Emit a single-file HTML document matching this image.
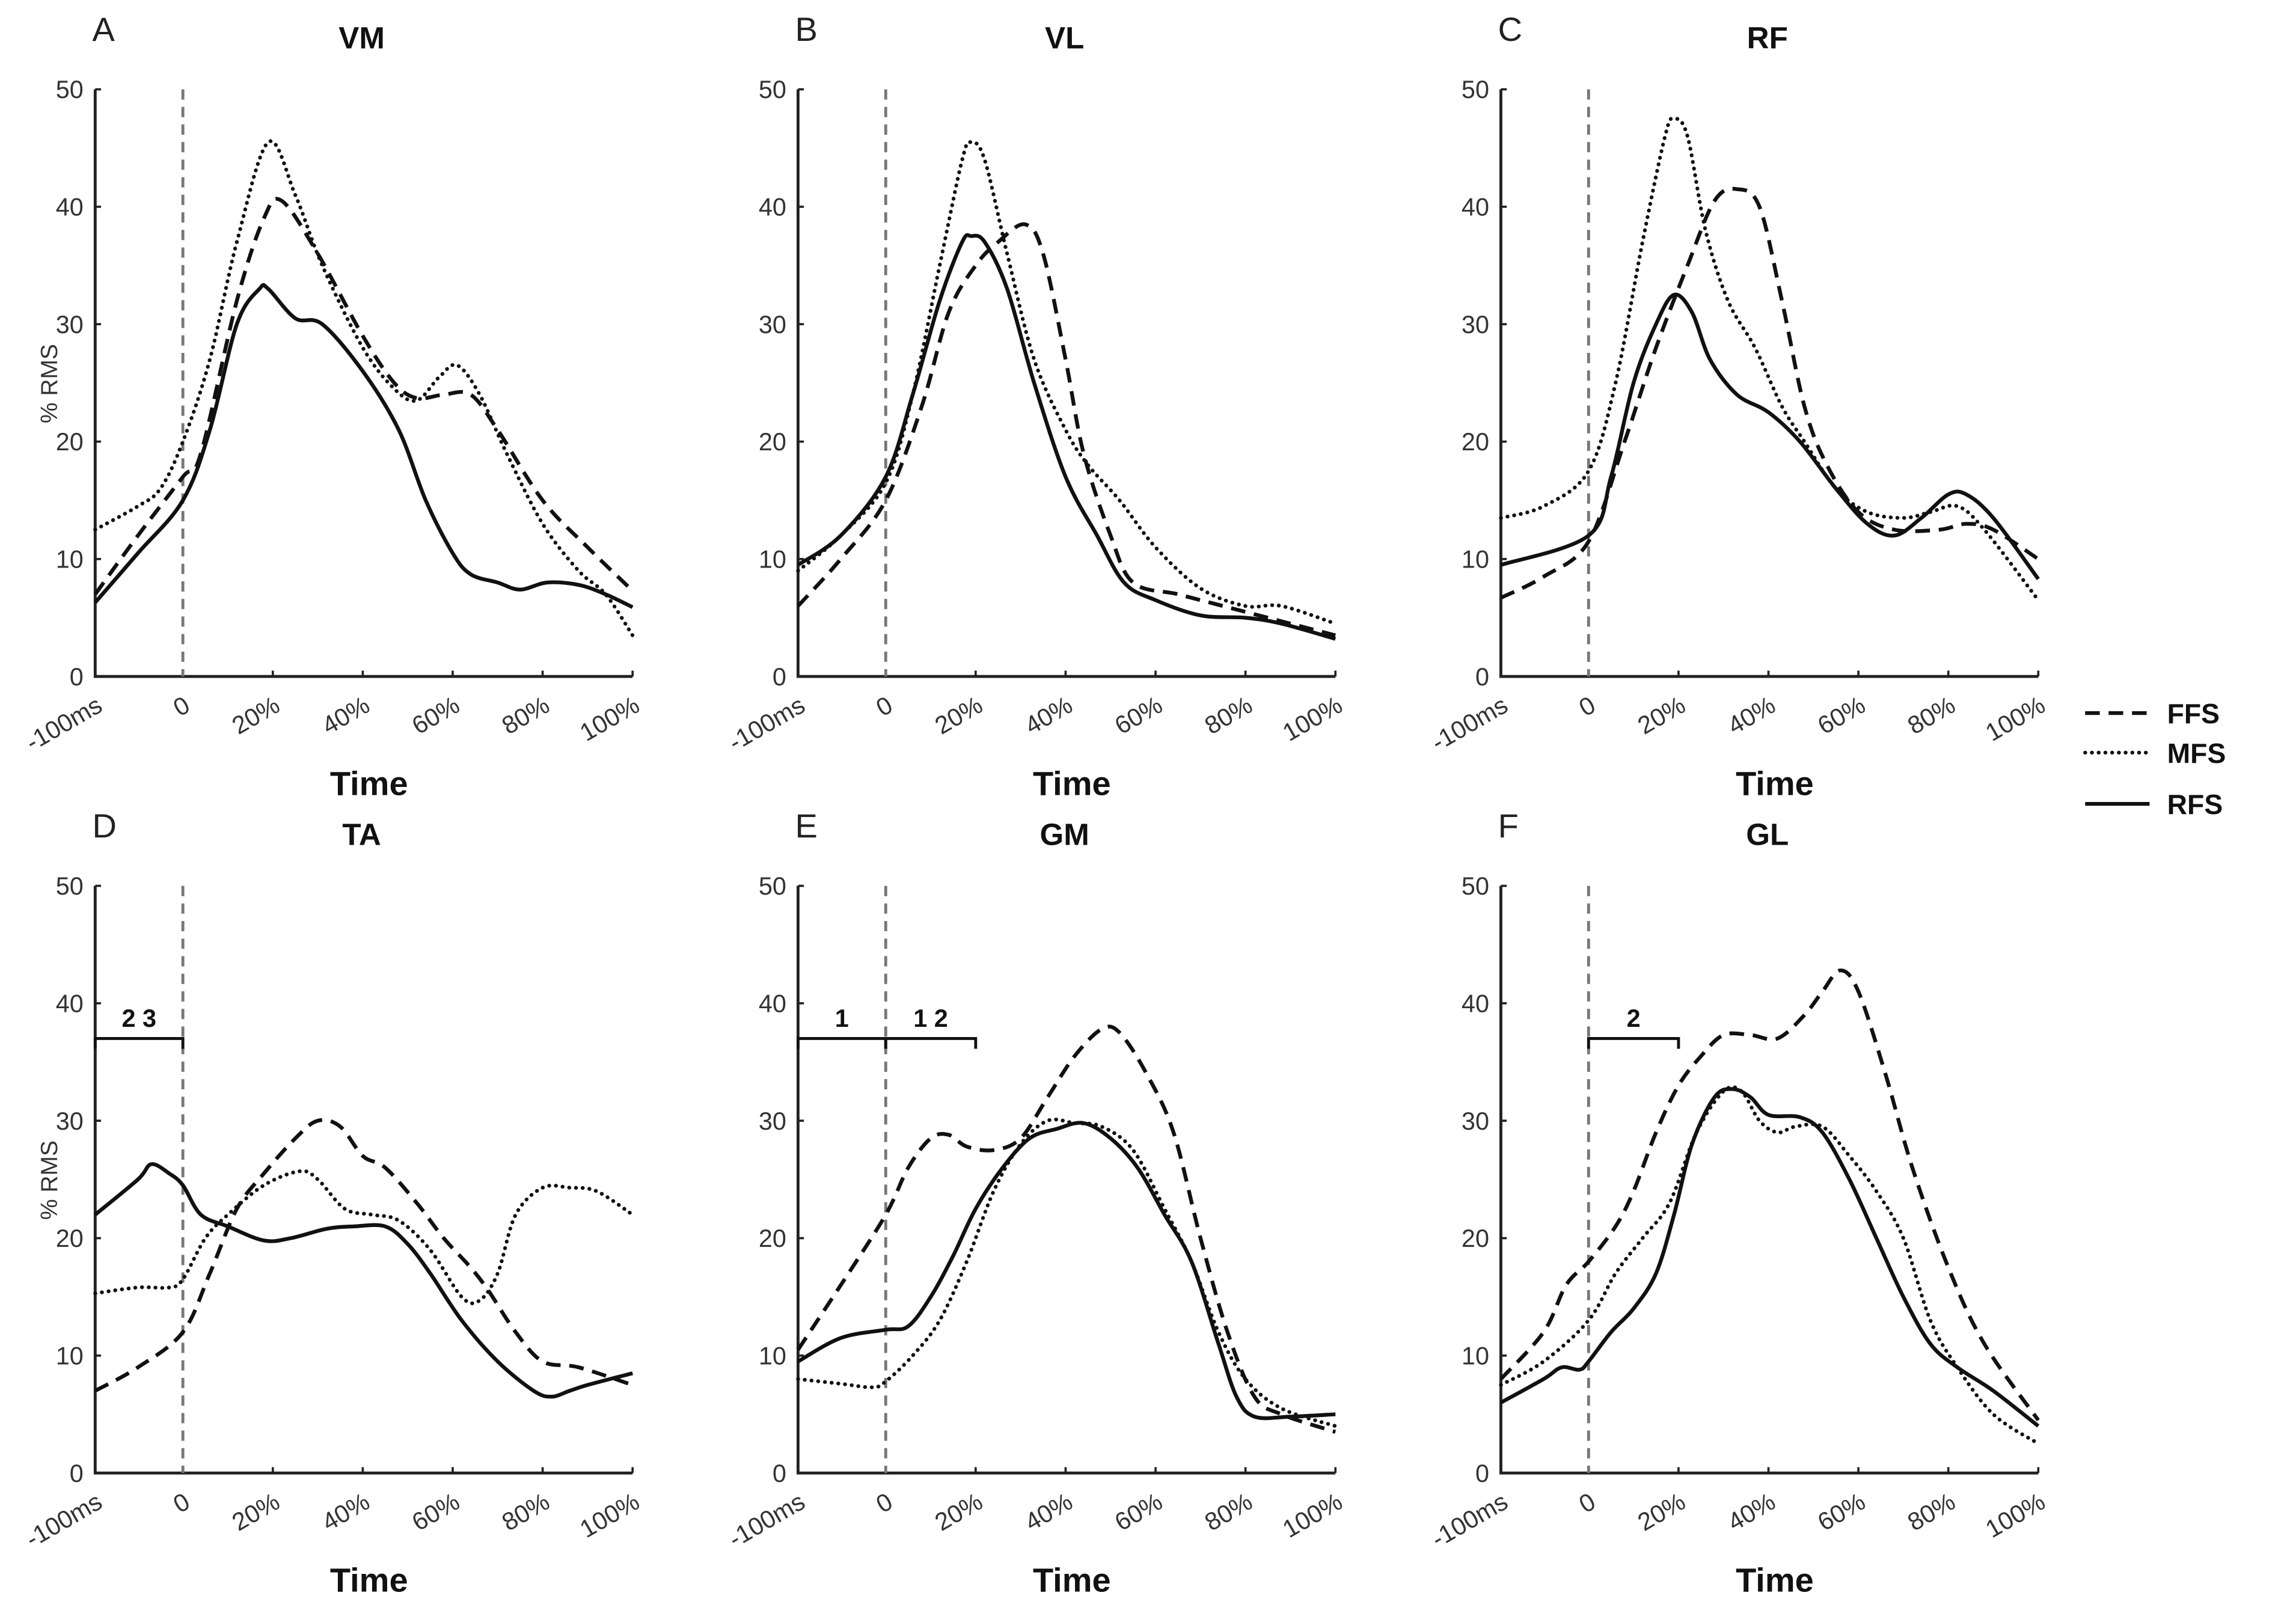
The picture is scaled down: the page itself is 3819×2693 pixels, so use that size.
<!DOCTYPE html>
<html><head><meta charset="utf-8"><style>
html,body{margin:0;padding:0;background:#fff;}
svg{display:block;font-family:"Liberation Sans",Arial,sans-serif;}
</style></head><body>
<svg id="fig" width="3819" height="2693" viewBox="0 0 1568 1105.7" xmlns="http://www.w3.org/2000/svg">
<g id="legend">
<line x1="1424" y1="487" x2="1468" y2="487" stroke="#111" stroke-width="2.6" stroke-dasharray="10,6"/>
<text x="1480" y="494" font-size="19" font-weight="bold" fill="#111">FFS</text>
<line x1="1424" y1="514" x2="1468" y2="514" stroke="#111" stroke-width="2.6" stroke-dasharray="0.1,4.5" stroke-linecap="round"/>
<text x="1480" y="521" font-size="19" font-weight="bold" fill="#111">MFS</text>
<line x1="1424" y1="549" x2="1468" y2="549" stroke="#111" stroke-width="2.6"/>
<text x="1480" y="556" font-size="19" font-weight="bold" fill="#111">RFS</text>
</g>
</svg>
<script>
const yTicks=[0,10,20,30,40,50];
const xTickVals=[-19.5,0,20,40,60,80,100];
const xTickLabels=['-100ms','0','20%','40%','60%','80%','100%'];
const panelLetters=['A','B','C','D','E','F'];
const panelTitles=['VM','VL','RF','TA','GM','GL'];
const vmRFS=[[-19.5,6.3],[-10,10.5],[0,15],[6,21],[12,30],[17,33],[19,33],[25,30.5],[31,30],[40,26],[48,21],[54,15],[60,10.5],[64,8.7],[70,8],[75,7.4],[81,8],[88,7.8],[94,7],[100,5.9]];
const vmMFS=[[-19.5,12.5],[-10,14.5],[-5,16],[0,20],[6,27],[12,37],[19,45.5],[25,41],[31,35],[40,28],[47,24.5],[52,23.5],[57,25.5],[61,26.5],[66,24],[72,19],[80,13],[88,9],[94,7],[100,3.5]];
const vmFFS=[[-19.5,7],[-10,12],[0,17],[4,19],[12,32],[18,39],[22,40.5],[30,36],[40,29],[47,25],[52,23.7],[58,24],[64,24],[70,21],[80,15],[90,11],[100,7.3]];
const vlRFS=[[-19.5,9.5],[-10,12],[0,17],[6,24],[12,32],[17,37],[19,37.5],[22,37],[27,33],[33,25],[40,17],[47,12],[53,8],[60,6.5],[70,5.2],[80,5],[88,4.5],[100,3.2]];
const vlMFS=[[-19.5,9],[-10,12],[0,16.5],[6,24],[12,35],[17,44],[19,45.5],[22,44],[27,36],[33,27],[40,21],[45,18],[52,15],[60,11],[70,7.5],[80,6],[88,6],[100,4.5]];
const vlFFS=[[-19.5,6],[-10,10],[0,15],[8,23],[14,31],[20,35],[25,37],[31,38.5],[35,36],[40,27],[44,19],[50,12],[55,8],[65,7],[75,6],[85,5],[100,3.5]];
const rfRFS=[[-19.5,9.5],[0,12],[5,17],[10,25],[15,30],[19,32.5],[23,31],[27,27],[33,24],[40,22.5],[47,20],[55,16],[62,13],[68,12],[74,13.5],[80,15.5],[84,15.5],[90,13.5],[100,8.3]];
const rfMFS=[[-19.5,13.5],[-10,14.5],[0,17.5],[6,25],[12,37],[17,46],[19,47.5],[22,46],[26,38],[31,32],[37,28],[43,23],[48,20],[55,16],[62,14],[70,13.5],[76,14],[82,14.5],[88,12.5],[100,6.5]];
const rfFFS=[[-19.5,6.7],[-10,8.5],[0,11.5],[8,20],[15,28],[22,35],[28,40.5],[33,41.5],[38,40],[43,32],[48,23],[53,18],[60,14],[68,12.5],[78,12.5],[84,13],[90,12.5],[100,10]];
const taRFS=[[-19.5,22],[-10,25],[-7,26.3],[-3,25.5],[0,24.5],[4,22],[10,21],[18,19.8],[24,20],[32,20.8],[38,21],[45,21],[50,19.5],[55,17],[62,13],[70,9.5],[78,7],[82,6.5],[86,7],[90,7.5],[100,8.5]];
const taMFS=[[-19.5,15.3],[-10,15.8],[-3,15.8],[0,16.5],[5,20],[10,22],[18,24.5],[26,25.7],[30,25],[36,22.5],[42,22],[48,21.5],[55,19],[62,15],[66,14.7],[70,17],[74,22],[80,24.3],[86,24.3],[92,24],[100,22]];
const taFFS=[[-19.5,7],[-10,9],[0,12],[6,17],[12,22.5],[18,25.5],[25,28.5],[30,30],[35,29.5],[40,27],[45,26],[52,23],[58,20],[64,17.5],[68,15.5],[74,12],[80,9.5],[88,9],[100,7.5]];
const gmRFS=[[-19.5,9.5],[-10,11.5],[0,12.2],[5,12.5],[10,15],[15,18.5],[20,22.5],[26,26],[32,28.5],[38,29.3],[44,29.8],[50,28.5],[56,26],[62,22],[68,18],[74,11],[78,6.5],[82,4.8],[90,4.8],[100,5]];
const gmMFS=[[-19.5,8],[-10,7.6],[-3,7.3],[0,7.8],[6,10],[12,13],[18,18],[24,24],[30,28],[36,30],[42,29.8],[48,29.5],[55,27.5],[62,22.5],[68,18],[74,12],[80,8],[88,5.5],[100,4]];
const gmFFS=[[-19.5,10.5],[-10,16],[0,22],[5,26],[10,28.5],[14,28.8],[18,27.8],[24,27.5],[30,28.5],[36,32],[42,35.5],[48,37.8],[52,37.5],[58,34],[64,29],[70,20],[76,12],[82,6.5],[88,5],[100,3.5]];
const glRFS=[[-19.5,6],[-10,8],[-6,9],[-2,8.8],[0,9.5],[5,12],[10,14],[15,17],[19,22],[23,28],[28,32],[32,32.7],[36,32],[40,30.5],[47,30.3],[52,29],[58,25],[64,20],[70,15],[76,11],[82,9],[90,7],[100,4]];
const glMFS=[[-19.5,7.5],[-10,9.5],[0,13],[6,17],[12,20],[18,23],[24,29],[30,32.5],[34,32.5],[38,30],[42,29],[46,29.5],[52,29.5],[58,27],[64,24],[70,20],[76,13],[82,9],[90,5],[100,2.5]];
const glFFS=[[-19.5,8],[-10,12],[-5,16],[0,18],[6,21],[10,24],[15,29],[20,33],[25,35.5],[30,37.3],[36,37.3],[42,37],[48,39],[52,41],[56,42.8],[60,41],[66,34],[72,26],[80,17.5],[88,11],[100,4.5]];
const rfsSeries=[vmRFS,vlRFS,rfRFS,taRFS,gmRFS,glRFS];
const mfsSeries=[vmMFS,vlMFS,rfMFS,taMFS,gmMFS,glMFS];
const ffsSeries=[vmFFS,vlFFS,rfFFS,taFFS,gmFFS,glFFS];
const bracketPanels=[3,4,4,5];
const bracketStarts=[-19.5,-19.5,0,0];
const bracketEnds=[0,0,20,20];
const bracketValues=[37,37,37,37];
const bracketLabels=['2 3','1','1 2','2'];

const NS='http://www.w3.org/2000/svg';
const svg=document.getElementById('fig');
const colX=[65,545,1025], rowY0=[462,1006], plotW=367, plotH=401;
function mk(tag,attrs,parent){const e=document.createElementNS(NS,tag);for(const k in attrs)e.setAttribute(k,attrs[k]);(parent||svg).appendChild(e);return e;}
function xs(p,v){return colX[p%3]+(v+19.5)/119.5*plotW;}
function ys(p,v){return rowY0[Math.floor(p/3)]-v/50*plotH;}
function pathD(p,pts){
  const P=pts.map(q=>[xs(p,q[0]),ys(p,q[1])]);
  let d='M'+P[0][0].toFixed(2)+','+P[0][1].toFixed(2);
  for(let i=0;i<P.length-1;i++){
    const p0=P[Math.max(0,i-1)],p1=P[i],p2=P[i+1],p3=P[Math.min(P.length-1,i+2)];
    const c1=[p1[0]+(p2[0]-p0[0])/6,p1[1]+(p2[1]-p0[1])/6];
    const c2=[p2[0]-(p3[0]-p1[0])/6,p2[1]-(p3[1]-p1[1])/6];
    d+=' C'+c1.map(v=>v.toFixed(2)).join(',')+' '+c2.map(v=>v.toFixed(2)).join(',')+' '+p2[0].toFixed(2)+','+p2[1].toFixed(2);
  }
  return d;
}
for(let p=0;p<6;p++){
  const g=mk('g',{});
  
  
  const x0=colX[p%3], y0=rowY0[Math.floor(p/3)];
  const L=mk('text',{x:x0-2,y:y0-plotH-33,'font-size':23,fill:'#222'},g);L.textContent=panelLetters[p];
  
  
  const T=mk('text',{x:x0+182,y:y0-plotH-28,'font-size':21,'font-weight':'bold','text-anchor':'middle',fill:'#111'},g);T.textContent=panelTitles[p];
  
  
  const ax=mk('path',{d:`M${x0},${y0-plotH} V${y0} H${x0+plotW}`,fill:'none',stroke:'#222','stroke-width':2},g);
  
  
  yTicks.forEach(v=>{
    mk('line',{x1:x0,x2:x0+4,y1:ys(p,v),y2:ys(p,v),stroke:'#222','stroke-width':1.5},g);
    const t=mk('text',{x:x0-8,y:ys(p,v)+6,'font-size':17,'text-anchor':'end',fill:'#333'},g);t.textContent=v;
    
    
  });
  xTickVals.forEach((v,i)=>{
    const x=xs(p,v);
    mk('line',{x1:x,x2:x,y1:y0,y2:y0-4,stroke:'#222','stroke-width':1.5},g);
    const t=mk('text',{x:x+6,y:y0+23,'font-size':17,'text-anchor':'end',fill:'#333',transform:`rotate(-30 ${x+6} ${y0+23})`},g);t.textContent=xTickLabels[i];
    
    
  });
  const XT=mk('text',{x:x0+187,y:y0+81,'font-size':23,'font-weight':'bold','text-anchor':'middle',fill:'#111'},g);XT.textContent='Time';
  
  
  if(p%3===0){
    const yl=mk('text',{x:0,y:0,'font-size':16,'text-anchor':'middle',fill:'#333',transform:`translate(${x0-26},${y0-200}) rotate(-90)`},g);yl.textContent='% RMS';
    
    
  }
  const zl=mk('line',{x1:xs(p,0),x2:xs(p,0),y1:y0-plotH,y2:y0,stroke:'#777','stroke-width':2,'stroke-dasharray':'7,5'},g);
  
  
  const s1=mk('path',{d:pathD(p,ffsSeries[p]),fill:'none',stroke:'#111','stroke-width':2.6,'stroke-dasharray':'10,6'},g);
  
  
  const s2=mk('path',{d:pathD(p,mfsSeries[p]),fill:'none',stroke:'#111','stroke-width':2.6,'stroke-dasharray':'0.1,4.5','stroke-linecap':'round'},g);
  
  
  const s3=mk('path',{d:pathD(p,rfsSeries[p]),fill:'none',stroke:'#111','stroke-width':2.6},g);
  
  
}
bracketPanels.forEach((p,i)=>{
  const xa=xs(p,bracketStarts[i]), xb=xs(p,bracketEnds[i]), y=ys(p,bracketValues[i]);
  const b=mk('path',{d:`M${xa},${y+7} V${y} H${xb} V${y+7}`,fill:'none',stroke:'#111','stroke-width':2});
  
  
  const t=mk('text',{x:(xa+xb)/2,y:y-8,'font-size':17,'font-weight':'bold','text-anchor':'middle',fill:'#111'});t.textContent=bracketLabels[i];
  
  
});
</script>
</body></html>
